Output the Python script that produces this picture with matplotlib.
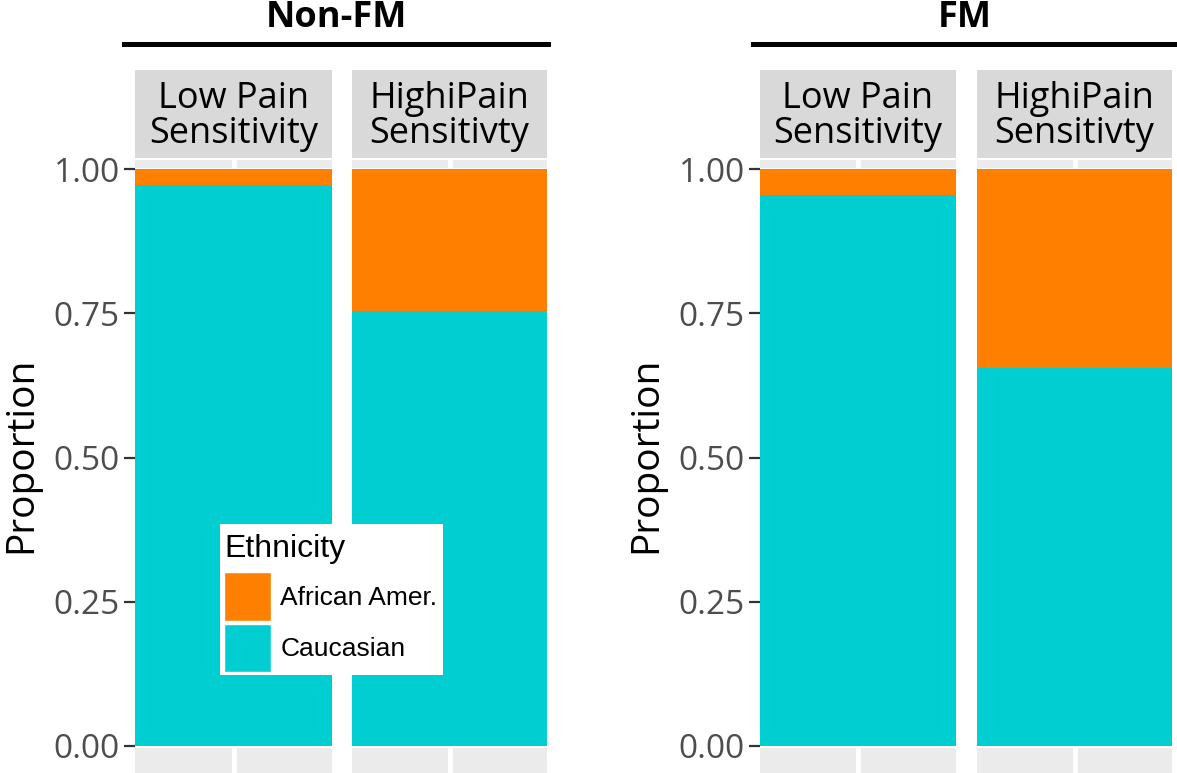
import matplotlib
matplotlib.use("Agg")
import matplotlib.pyplot as plt
from matplotlib.patches import Patch, Rectangle
from matplotlib.lines import Line2D

# %% Daten

groups = ["Non-FM", "FM"]
strips = ["Low Pain\nSensitivity", "HighiPain\nSensitivty"]
ethnicities = ["African Amer.", "Caucasian"]
# Anteil Caucasian je Gruppe und Panel (Rest = African Amer.)
caucasian = [[0.972, 0.754],
             [0.955, 0.655]]
yticks = [0.0, 0.25, 0.50, 0.75, 1.00]
ytick_labels = ["0.00", "0.25", "0.50", "0.75", "1.00"]

colors = {"African Amer.": "#FF8000", "Caucasian": "#00CED1"}

# %% Layout (Pixel)

W, H = 1177, 773
plt.rcParams["font.family"] = ["Liberation Sans", "DejaVu Sans"]
strip_font = ["Open Sans", "DejaVu Sans"]

fig = plt.figure(figsize=(W / 100, H / 100), dpi=100)

panel_x = [[(135, 332), (352, 547)], [(760, 956), (977, 1172)]]
title_line = [(124, 548), (753, 1177)]
y_one, y_zero = 169, 746
ppu = y_zero - y_one
ymin, ymax = -0.06, 1 + (y_one - 160) / ppu


def fig_rect(x0, x1, ytop, ybot):
    return [x0 / W, 1 - ybot / H, (x1 - x0) / W, (ybot - ytop) / H]


for g, grp in enumerate(groups):
    for p, lab in enumerate(strips):
        x0, x1 = panel_x[g][p]
        ytop = y_one - (ymax - 1) * ppu
        ybot = y_zero - ymin * ppu
        ax = fig.add_axes(fig_rect(x0, x1, ytop, ybot))
        ax.set_facecolor("#EBEBEB")
        for s in ax.spines.values():
            s.set_visible(False)

        # Gitterlinien
        for yt in yticks:
            ax.axhline(yt, color="white", lw=2.2, zorder=0.5)
        ax.axvline(0, color="white", lw=3.5, zorder=0.5)

        c = caucasian[g][p]
        ax.bar(0, c, width=1, color=colors["Caucasian"], zorder=1)
        ax.bar(0, 1 - c, bottom=c, width=1, color=colors["African Amer."], zorder=1)

        ax.set_xlim(-0.5, 0.5)
        ax.set_ylim(ymin, ymax)
        ax.set_xticks([])
        if p == 0:
            ax.set_yticks(yticks)
            ax.set_yticklabels(ytick_labels, family=strip_font)
            ax.tick_params(axis="y", length=8, width=1.6, color="#333333",
                           labelcolor="#4D4D4D", labelsize=24, pad=3)
            fig.text((x0 - 114) / W, 1 - 455 / H, "Proportion", rotation=90,
                     ha="center", va="center", fontsize=28, family=strip_font)
        else:
            ax.set_yticks([])

        # Streifen oben
        sax = fig.add_axes(fig_rect(x0, x1, 70, 158))
        sax.set_facecolor("#D9D9D9")
        sax.set_xticks([])
        sax.set_yticks([])
        for s in sax.spines.values():
            s.set_visible(False)
        sax.text(0.5, 0.47, lab, ha="center", va="center", fontsize=26,
                 family=strip_font, linespacing=0.95, transform=sax.transAxes)

    # Gruppentitel und Linie
    lx0, lx1 = title_line[g]
    fig.text((lx0 + lx1) / 2 / W, 1 - 27 / H, grp, ha="center", va="baseline",
             fontsize=26, fontweight="bold", family=strip_font)
    fig.add_artist(Line2D([lx0 / W, lx1 / W], [1 - 44 / H, 1 - 44 / H],
                          color="black", lw=3.6, transform=fig.transFigure))

# %% Legende (weisser Kasten + Inhalt)

fig.add_artist(Rectangle((220 / W, 1 - 675 / H), 223 / W, 151 / H,
                         facecolor="white", edgecolor="none",
                         transform=fig.transFigure, zorder=4))

handles = [Patch(facecolor=colors[e], edgecolor="white", lw=1) for e in ethnicities]
leg = fig.legend(handles, ethnicities, title="Ethnicity", loc="upper left",
                 bbox_to_anchor=(224 / W, 1 - 534 / H), fontsize=19,
                 title_fontsize=23, frameon=False,
                 handlelength=1.78, handleheight=2.45, labelspacing=0.12,
                 handletextpad=0.35, borderpad=0, borderaxespad=0,
                 alignment="left")
leg.set_zorder(5)
leg._legend_box.sep = 6

fig.savefig("out.png", dpi=100)
